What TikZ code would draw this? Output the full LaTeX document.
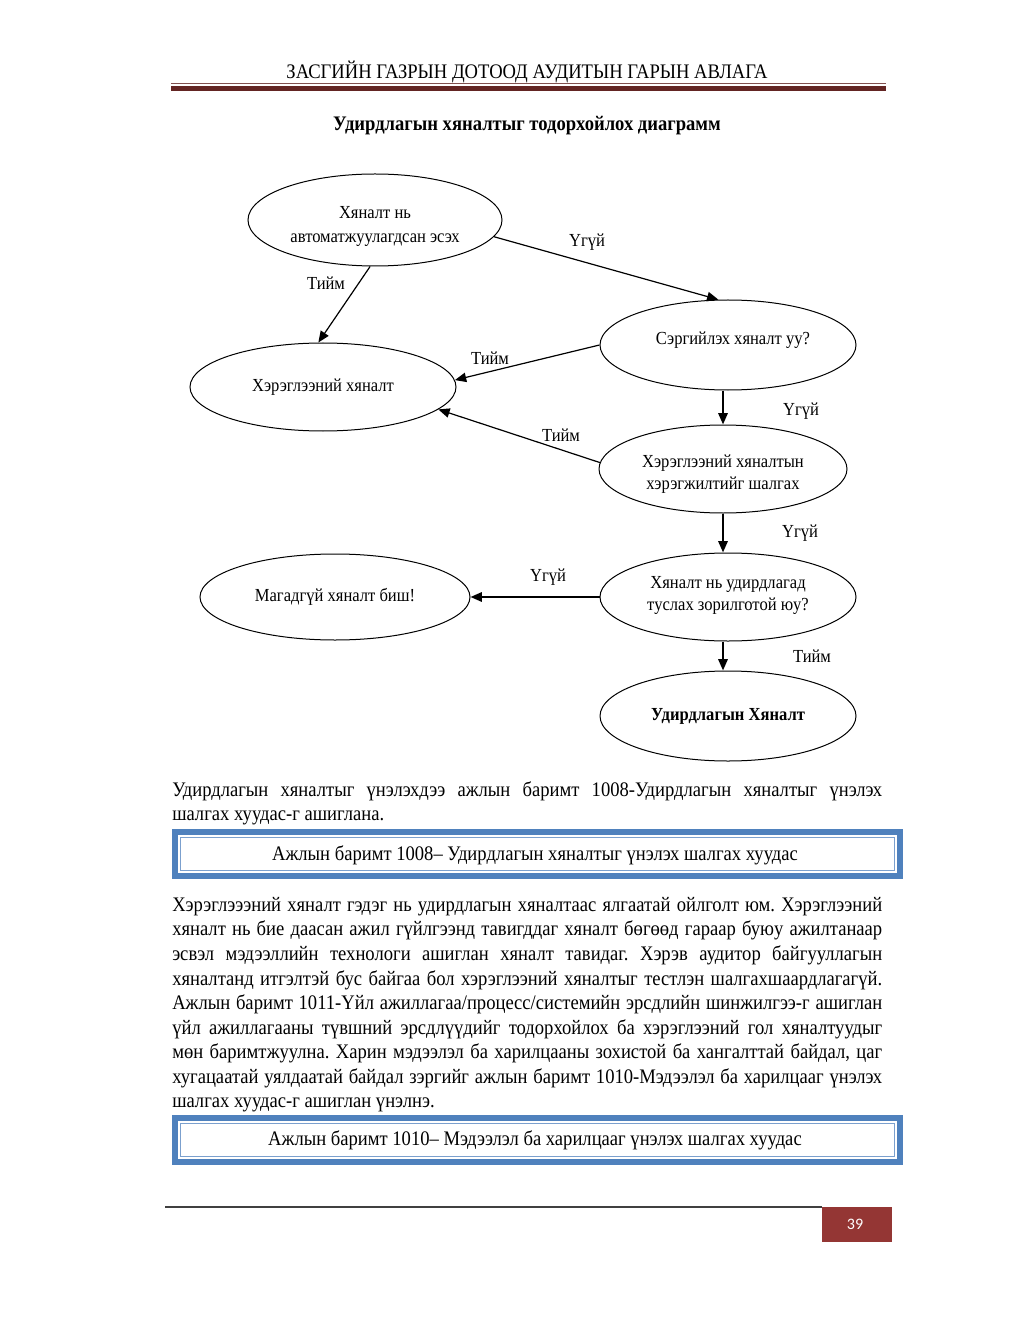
\documentclass[tikz,border=0pt]{standalone}
\usepackage{fontspec}
\setmainfont{Liberation Serif}[FakeStretch=0.9]
\newfontfamily\pagefont{Carlito}
\usetikzlibrary{arrows.meta,shapes.geometric}
\definecolor{maroon}{HTML}{632523}
\definecolor{boxblue}{HTML}{4F81BD}
\definecolor{pagered}{HTML}{943634}
\newcommand{\dfont}{\fontsize{13.8}{18}\selectfont}
\newcommand{\bfont}{\fontsize{15.5}{18.4}\selectfont}
\frenchspacing
\begin{document}
\begin{tikzpicture}[x=0.75pt,y=-0.75pt,
  ell/.style={ellipse, draw, line width=0.75pt, inner sep=0pt, font=\dfont, align=center},
  arr/.style={line width=0.9pt, -{Triangle[length=8.5pt,width=7pt]}},
  varr/.style={line width=1.5pt, -{Triangle[length=8.5pt,width=7pt]}},
  lbl/.style={font=\dfont, inner sep=0pt},
  para/.style={anchor=north west, inner sep=0pt, align=left, font=\bfont},
  boxtext/.style={font=\bfont, inner sep=0pt}]
\useasboundingbox (0,0) rectangle (1024,1326);
\fill[white] (0,0) rectangle (1024,1326);

% header
\node[font=\fontsize{15.5}{18}\selectfont, inner sep=0pt] (hdr) at (527,72) {ЗАСГИЙН ГАЗРЫН ДОТООД АУДИТЫН ГАРЫН АВЛАГА};
\draw[maroon!80, line width=0.8pt] (171,83.5) -- (886,83.5);
\fill[maroon] (171,86) rectangle (886,91.5);

% title
\node[font=\fontsize{15.5}{18}\selectfont\bfseries, inner sep=0pt] (title) at (527,126) {Удирдлагын хяналтыг тодорхойлох диаграмм};

% ellipses
\node[ell, minimum width=190.5pt, minimum height=69pt] (e1) at (375,220) {};
\node[font=\dfont, align=center, inner sep=0pt] (e1t) at (375,226) {Хяналт нь\\автоматжуулагдсан эсэх};
\node[ell, minimum width=199.5pt, minimum height=66pt] (e2) at (323,387) {Хэрэглээний хяналт};
\node[ell, minimum width=192pt, minimum height=67.5pt] (e3) at (728,345) {};
\node[font=\dfont, inner sep=0pt] (e3t) at (733,340) {Сэргийлэх хяналт уу?};
\node[ell, minimum width=186pt, minimum height=66pt] (e4) at (723,469) {};
\node[font=\fontsize{13.8}{16.5}\selectfont, align=center, inner sep=0pt] (e4t) at (723,474) {Хэрэглээний хяналтын\\хэрэгжилтийг шалгах};
\node[ell, minimum width=202.5pt, minimum height=64.5pt] (e5) at (335,597) {Магадгүй хяналт биш!};
\node[ell, minimum width=192pt, minimum height=66pt] (e6) at (728,597) {};
\node[font=\fontsize{13.8}{16.5}\selectfont, align=center, inner sep=0pt] (e6t) at (728,595) {Хяналт нь удирдлагад\\туслах зорилготой юу?};
\node[ell, minimum width=192pt, minimum height=67.5pt, font=\dfont\bfseries] (e7) at (728,716) {Удирдлагын Хяналт};

% connectors
\draw[arr] (e1.-8) -- (e3.102);
\draw[arr] (e1.-96) -- (e2.96);
\draw[arr] (e3.west) -- (e2.3);
\draw[varr] (e3.south -| e4.north) -- (e4.north);
\draw[arr] (e4.177) -- (e2.-11);
\draw[varr] (e4.south) -- (e4.south |- e6.north);
\draw[varr] (e6.west) -- (e5.east);
\draw[varr] (e6.south -| e4.south) -- (e7.north -| e4.south);

% labels
\node[lbl] (l1) at (587,242) {Үгүй};
\node[lbl] (l2) at (326,283) {Тийм};
\node[lbl] (l3) at (490,358) {Тийм};
\node[lbl] (l4) at (801,411) {Үгүй};
\node[lbl] (l5) at (561,435) {Тийм};
\node[lbl] (l6) at (800,533) {Үгүй};
\node[lbl] (l7) at (548,577) {Үгүй};
\node[lbl] (l8) at (812,656) {Тийм};

% paragraph 1
\node[para] (p1) at (172,781) {%
\makebox[532.5pt][s]{Удирдлагын хяналтыг үнэлэхдээ ажлын баримт 1008-Удирдлагын хяналтыг үнэлэх}\\
шалгах хуудас-г ашиглана.};

% box 1
\fill[boxblue] (172,829) rectangle (903,879);
\fill[white] (178,835) rectangle (897,873);
\draw[boxblue!75, line width=1.2pt] (180.5,837.5) rectangle (894.5,870.5);
\node[boxtext] (b1) at (535,855) {Ажлын баримт 1008– Удирдлагын хяналтыг үнэлэх шалгах хуудас};

% paragraph 2
\node[para] (p2) at (172,897) {%
\makebox[532.5pt][s]{Хэрэглэээний хяналт гэдэг нь удирдлагын хяналтаас ялгаатай ойлголт юм. Хэрэглээний}\\
\makebox[532.5pt][s]{хяналт нь бие даасан ажил гүйлгээнд тавигддаг хяналт бөгөөд гараар буюу ажилтанаар}\\
\makebox[532.5pt][s]{эсвэл мэдээллийн технологи ашиглан хяналт тавидаг. Хэрэв аудитор байгууллагын}\\
\makebox[532.5pt][s]{хяналтанд итгэлтэй бус байгаа бол хэрэглээний хяналтыг тестлэн шалгахшаардлагагүй.}\\
\makebox[532.5pt][s]{Ажлын баримт 1011-Үйл ажиллагаа/процесс/системийн эрсдлийн шинжилгээ-г ашиглан}\\
\makebox[532.5pt][s]{үйл ажиллагааны түвшний эрсдлүүдийг тодорхойлох ба хэрэглээний гол хяналтуудыг}\\
\makebox[532.5pt][s]{мөн баримтжуулна. Харин мэдээлэл ба харилцааны зохистой ба хангалттай байдал, цаг}\\
\makebox[532.5pt][s]{хугацаатай уялдаатай байдал зэргийг ажлын баримт 1010-Мэдээлэл ба харилцааг үнэлэх}\\
шалгах хуудас-г ашиглан үнэлнэ.};

% box 2
\fill[boxblue] (172,1115) rectangle (903,1165);
\fill[white] (178,1121) rectangle (897,1159);
\draw[boxblue!75, line width=1.2pt] (180.5,1123.5) rectangle (894.5,1156.5);
\node[boxtext] (b2) at (535,1140) {Ажлын баримт 1010– Мэдээлэл ба харилцааг үнэлэх шалгах хуудас};

% footer
\draw[black!75, line width=0.8pt] (165,1207) -- (822,1207);
\fill[pagered] (822,1207) rectangle (892,1242);
\node[text=white, font=\pagefont\fontsize{12}{14}\selectfont, inner sep=0pt] (pg) at (855,1224) {39};
\end{tikzpicture}
\end{document}
